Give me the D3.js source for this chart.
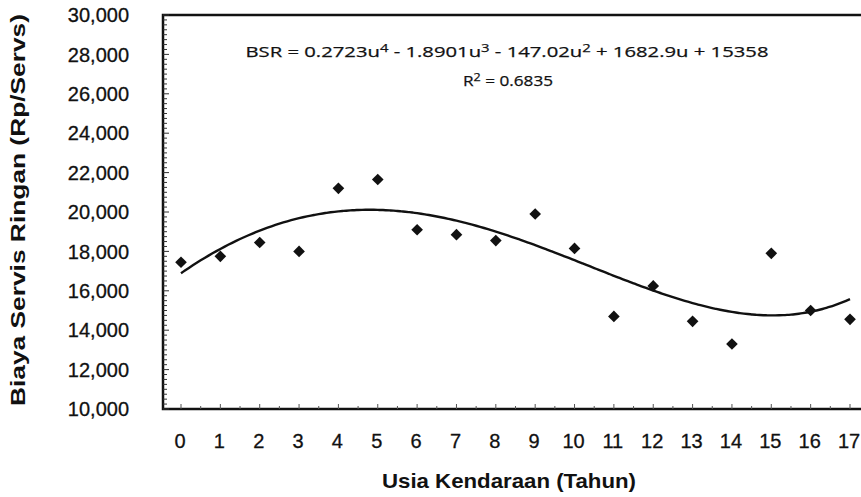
<!DOCTYPE html>
<html>
<head>
<meta charset="utf-8">
<script src="https://cdn.jsdelivr.net/npm/d3@7"></script>
<style>
  body { margin: 0; background: #fff; }
  svg { display: block; }
  .tick-label { font-family: "Liberation Sans", Arial, sans-serif; font-size: 20px; fill: #111; stroke: #111; stroke-width: 0.3px; }
  .axis-title { font-family: "Liberation Sans", Arial, sans-serif; font-weight: bold; fill: #111; }
  .eq { font-family: "Open Sans", "Noto Sans", sans-serif; font-size: 15px; fill: #111; stroke: #111; stroke-width: 0.25px; }
</style>
</head>
<body>
<div id="chart"></div>
<script>
// data
const usia = [0, 1, 2, 3, 4, 5, 6, 7, 8, 9, 10, 11, 12, 13, 14, 15, 16, 17];
const biaya = [17450, 17750, 18450, 18000, 21200, 21650, 19100, 18850, 18550,
  19900, 18150, 14700, 16250, 14450, 13300, 17900, 15000, 14550];
const yTicks = [10000, 12000, 14000, 16000, 18000, 20000, 22000, 24000, 26000, 28000, 30000];
// trendline coefficients (u^4 .. u^0), Excel counts u from 1
const coef = [0.2723, -1.8901, -147.02, 1682.9, 15358];

const width = 861;
const height = 497;

const x = d3.scaleLinear().domain([0, 17]).range([181, 850]);
const y = d3.scaleLinear().domain([10000, 30000]).range([409, 15]);

const svg = d3.select("#chart")
  .append("svg")
  .attr("width", width)
  .attr("height", height);

// frame (right side is cut off in the original)
const left = 163, right = 875;
svg.append("path")
  .attr("d", `M${right},${y(30000)} H${left} V${y(10000)} H${right}`)
  .attr("fill", "none")
  .attr("stroke", "#111")
  .attr("stroke-width", 2.5);

// minor ticks on the y axis, pointing inward
const yMinor = d3.range(10000, 30001, 250);
svg.append("g").selectAll("line")
  .data(yMinor)
  .join("line")
  .attr("x1", left)
  .attr("x2", d => left + (d % 2000 === 0 ? 6 : 4))
  .attr("y1", d => y(d))
  .attr("y2", d => y(d))
  .attr("stroke", "#333")
  .attr("stroke-width", 1);

// minor ticks on the x axis
const xMinor = d3.range(0, 17.6, 0.5);
svg.append("g").selectAll("line")
  .data(xMinor)
  .join("line")
  .attr("x1", d => x(d))
  .attr("x2", d => x(d))
  .attr("y1", y(10000))
  .attr("y2", d => y(10000) - (Number.isInteger(d) ? 5 : 3))
  .attr("stroke", "#555")
  .attr("stroke-width", 1);

// y tick labels
svg.append("g").selectAll("text")
  .data(yTicks)
  .join("text")
  .attr("class", "tick-label")
  .attr("x", 129)
  .attr("y", d => y(d) + 2)
  .attr("text-anchor", "end")
  .attr("dominant-baseline", "middle")
  .text(d3.format(","));

// x tick labels
svg.append("g").selectAll("text")
  .data(usia)
  .join("text")
  .attr("class", "tick-label")
  .attr("x", d => x(d) - 1)
  .attr("y", 448)
  .attr("text-anchor", "middle")
  .text(d => d);

// axis titles
svg.append("text")
  .attr("class", "axis-title")
  .attr("transform", "translate(25,210) rotate(-90)")
  .attr("text-anchor", "middle")
  .attr("font-size", 20)
  .attr("textLength", 392)
  .attr("lengthAdjust", "spacingAndGlyphs")
  .text("Biaya Servis Ringan (Rp/Servs)");

svg.append("text")
  .attr("class", "axis-title")
  .attr("x", 509)
  .attr("y", 488)
  .attr("text-anchor", "middle")
  .attr("font-size", 21)
  .attr("textLength", 254)
  .attr("lengthAdjust", "spacingAndGlyphs")
  .text("Usia Kendaraan (Tahun)");

// trendline
const poly = u => coef.reduce((acc, c) => acc * u + c, 0);
const curvePts = d3.range(0, 17.001, 0.1).map(t => [t, poly(t + 1)]);
svg.append("path")
  .datum(curvePts)
  .attr("fill", "none")
  .attr("stroke", "#111")
  .attr("stroke-width", 2.4)
  .attr("d", d3.line().x(d => x(d[0])).y(d => y(d[1])).curve(d3.curveCatmullRom));

// points
svg.append("g").selectAll("path")
  .data(usia)
  .join("path")
  .attr("transform", (d, i) => `translate(${x(d)},${y(biaya[i])}) rotate(45)`)
  .attr("d", d3.symbol().type(d3.symbolSquare).size(68))
  .attr("fill", "#111");

// equation
const eq = svg.append("text")
  .attr("class", "eq")
  .attr("x", 507)
  .attr("y", 57)
  .attr("text-anchor", "middle")
  .attr("textLength", 523)
  .attr("lengthAdjust", "spacingAndGlyphs");
const parts = [["BSR = 0.2723u", ""], ["4", "sup"], [" - 1.8901u", ""], ["3", "sup"],
  [" - 147.02u", ""], ["2", "sup"], [" + 1682.9u + 15358", ""]];
parts.forEach(([t, k], i) => {
  const s = eq.append("tspan").text(t);
  if (k === "sup") s.attr("dy", -5).attr("font-size", 11);
  else if (i > 0) s.attr("dy", 5);
});

const r2 = svg.append("text")
  .attr("class", "eq")
  .attr("x", 508)
  .attr("y", 86)
  .attr("text-anchor", "middle")
  .attr("textLength", 90)
  .attr("lengthAdjust", "spacingAndGlyphs");
r2.append("tspan").text("R");
r2.append("tspan").attr("dy", -5).attr("font-size", 11).text("2");
r2.append("tspan").attr("dy", 5).text(" = 0.6835");
</script>
</body>
</html>
